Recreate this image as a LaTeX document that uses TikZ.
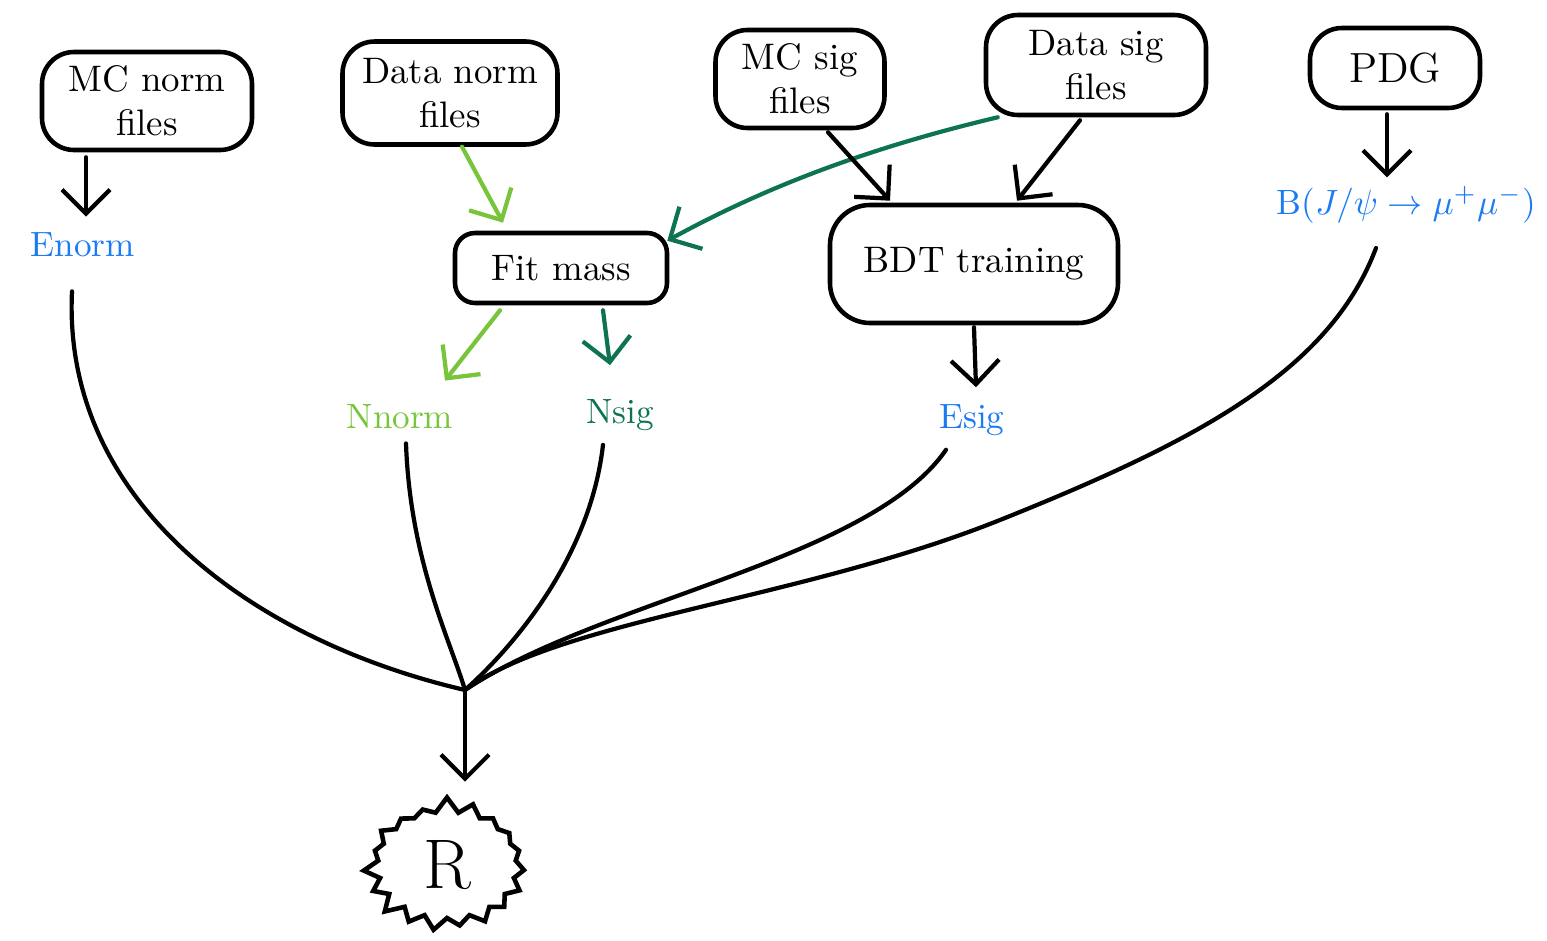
\documentclass[tikz,border=0pt]{standalone}
\usetikzlibrary{arrows.meta,shapes.symbols}
\definecolor{hblue}{HTML}{1A7BF2}
\definecolor{lgreen}{HTML}{78C43A}
\definecolor{dgreen}{HTML}{0E7350}
\begin{document}
\begin{tikzpicture}[
  box/.style={draw=black, line width=1.3pt, rounded corners=0.32cm, align=center, font=\fontsize{10.5}{12.5}\selectfont, inner sep=0pt},
  lbl/.style={font=\fontsize{10}{12}\selectfont, inner sep=1pt},
  arr/.style={line width=1.2pt, line cap=round, -{Straight Barb[length=2.4mm,width=4.8mm,line width=1.2pt]}},
  link/.style={line width=1.2pt, line cap=round}
]
\useasboundingbox (0,0) rectangle (15.47,-9.41);
% boxes
\node[box, minimum width=2.1cm, minimum height=0.98cm] (mcn) at (1.47,-1.01) {MC norm\\files};
\node[box, minimum width=2.15cm, minimum height=1.03cm] (dn) at (4.50,-0.93) {Data norm\\files};
\node[box, minimum width=1.69cm, minimum height=0.98cm] (mcs) at (8.00,-0.79) {MC sig\\files};
\node[box, minimum width=2.2cm, minimum height=1.0cm] (ds) at (10.96,-0.65) {Data sig\\files};
\node[box, minimum width=1.7cm, minimum height=0.8cm, font=\fontsize{12}{14}\selectfont] (pdg) at (13.95,-0.68) {PDG};
\node[box, minimum width=2.12cm, minimum height=0.70cm, rounded corners=0.2cm] (fit) at (5.61,-2.68) {Fit mass};
\node[box, minimum width=2.88cm, minimum height=1.18cm, rounded corners=0.4cm] (bdt) at (9.74,-2.64) {BDT training};
% labels
\node[lbl, text=hblue] (en) at (0.83,-2.45) {Enorm};
\node[lbl, text=hblue, anchor=east] (br) at (15.40,-2.05) {B($J/\psi \to \mu^{+}\mu^{-}$)};
\node[lbl, text=lgreen] (nn) at (4.00,-4.17) {Nnorm};
\node[lbl, text=dgreen] (ns) at (6.20,-4.15) {Nsig};
\node[lbl, text=hblue] (es) at (9.72,-4.20) {Esig};
\node[draw=black, line width=1.3pt, starburst, starburst points=19, starburst point height=0.16cm, random starburst=7, minimum width=1.7cm, minimum height=1.38cm, font=\fontsize{20}{22}\selectfont] (r) at (4.47,-8.65) {R};
\coordinate (j) at (4.65,-6.90);
% arrows
\draw[arr] (en |- mcn.south) ++(0.03,-0.05) -- ([xshift=0.03cm,yshift=0.12cm]en.north);
\draw[arr, draw=lgreen] ([xshift=0.12cm]dn.south) -- ([xshift=-0.58cm,yshift=0.08cm]fit.north);
\draw[arr, draw=dgreen] ([xshift=0.14cm]ds.south west) .. controls (8.6,-1.5) and (7.6,-1.9) .. ([xshift=-0.02cm,yshift=-0.1cm]fit.north east);
\draw[arr] ([xshift=0.28cm,yshift=-0.02cm]mcs.south) -- ([xshift=-0.84cm,yshift=0.02cm]bdt.north);
\draw[arr] ([xshift=-0.16cm,yshift=-0.03cm]ds.south) -- ([xshift=0.43cm,yshift=0.02cm]bdt.north);
\draw[arr] ([xshift=-0.08cm,yshift=-0.04cm]pdg.south) -- ([xshift=-0.08cm,yshift=0.05cm]pdg.south |- br.north);
\draw[arr, draw=lgreen] ([xshift=-0.61cm,yshift=-0.05cm]fit.south) -- ([xshift=0.45cm,yshift=0.2cm]nn.north);
\draw[arr, draw=dgreen] ([xshift=0.42cm,yshift=-0.05cm]fit.south) -- ([xshift=-0.1cm,yshift=0.3cm]ns.north);
\draw[arr] ([yshift=-0.02cm]bdt.south) -- ([xshift=0.04cm,yshift=0.13cm]es.north);
% merging curves
\draw[link] ([xshift=-0.11cm,yshift=-0.3cm]en.south) .. controls (0.62,-5.0) and (2.5,-6.4) .. (j);
\draw[link] ([xshift=0.06cm,yshift=-0.1cm]nn.south) .. controls (4.10,-5.6) and (4.50,-6.4) .. (j);
\draw[link] ([xshift=-0.17cm,yshift=-0.1cm]ns.south) .. controls (5.90,-5.6) and (5.10,-6.5) .. (j);
\draw[link] ([xshift=-0.26cm,yshift=-0.1cm]es.south) .. controls (8.70,-5.6) and (6.00,-6.0) .. (j);
\draw[link] (13.76,-2.48) .. controls (13.3,-3.7) and (12.0,-4.4) .. (10.0,-5.2) .. controls (8.0,-6.0) and (5.6,-6.2) .. (j);
\draw[arr] (j) -- ([yshift=0.12cm]j |- r.north);
\end{tikzpicture}
\end{document}
